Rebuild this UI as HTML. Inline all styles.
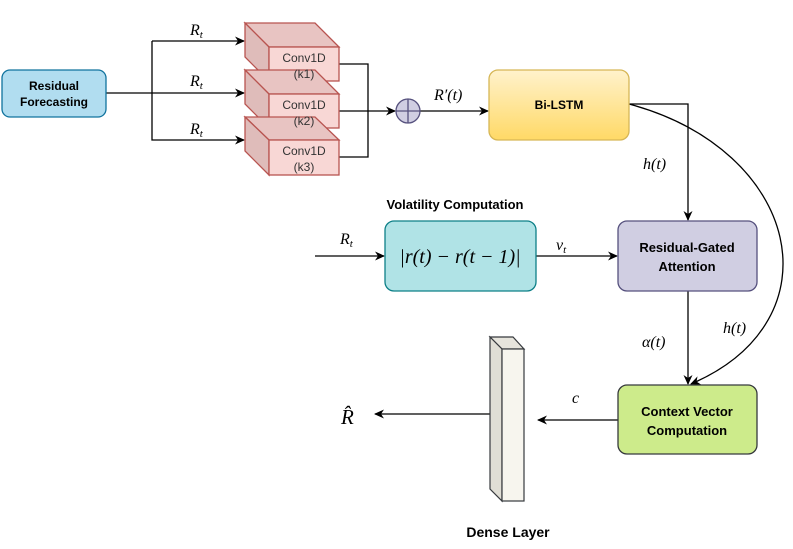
<!DOCTYPE html>
<html><head><meta charset="utf-8"><style>
html,body{margin:0;padding:0;background:#fff;}
svg{display:block;}
.sans{font-family:"Liberation Sans",sans-serif;}
.m{font-family:"Liberation Serif",serif;font-style:italic;}
</style></head><body>
<svg width="793" height="549" viewBox="0 0 793 549" xmlns="http://www.w3.org/2000/svg">
<defs>
<marker id="a" markerWidth="10" markerHeight="10" refX="9" refY="5" orient="auto" markerUnits="userSpaceOnUse">
<path d="M0,0.5 L10,5 L0,9.5 L3,5 Z" fill="#000"/></marker>
<linearGradient id="y" x1="0" y1="0" x2="0" y2="1"><stop offset="0" stop-color="#fff2cc"/><stop offset="1" stop-color="#ffd966"/></linearGradient>
</defs>
<g stroke="#000" stroke-width="1.3" fill="none">
<path d="M106,93 L244,93" marker-end="url(#a)"/>
<path d="M152,41 L244,41" marker-end="url(#a)"/>
<path d="M152,41 L152,140 L244,140" marker-end="url(#a)"/>
<path d="M339,64 L368,64 L368,157 L339,157"/>
<path d="M339,111 L395,111" marker-end="url(#a)"/>
<path d="M420,111 L488,111" marker-end="url(#a)"/>
<path d="M629,104 L688,104 L688,220" marker-end="url(#a)"/>
<path d="M629,104 C800,150 840,320 691,384" marker-end="url(#a)"/>
<path d="M315,256 L384,256" marker-end="url(#a)"/>
<path d="M536,256 L617,256" marker-end="url(#a)"/>
<path d="M688,291 L688,384" marker-end="url(#a)"/>
<path d="M618,420 L538,420" marker-end="url(#a)"/>
<path d="M490,414 L375,414" marker-end="url(#a)"/>
</g>
<rect x="2" y="70" width="104" height="47" rx="8" fill="#b1ddf0" stroke="#10739e" stroke-width="1.3"/>
<text x="54" y="90" text-anchor="middle" class="sans" font-weight="bold" font-size="12">Residual</text>
<text x="54" y="106" text-anchor="middle" class="sans" font-weight="bold" font-size="12">Forecasting</text>
<g stroke="#b85450" stroke-width="1.3">
<g>
<polygon points="245,23 315,23 339,47 269,47" fill="#e8c4c2"/>
<polygon points="245,23 269,47 269,81 245,57" fill="#dfbcba"/>
<rect x="269" y="47" width="70" height="34" fill="#f8d7d5"/>
</g>
<g>
<polygon points="245,70 315,70 339,94 269,94" fill="#e8c4c2"/>
<polygon points="245,70 269,94 269,128 245,104" fill="#dfbcba"/>
<rect x="269" y="94" width="70" height="34" fill="#f8d7d5"/>
</g>
<g>
<polygon points="245,117 315,117 339,140 269,140" fill="#e8c4c2"/>
<polygon points="245,117 269,140 269,175 245,151" fill="#dfbcba"/>
<rect x="269" y="140" width="70" height="35" fill="#f8d7d5"/>
</g>
</g>
<g class="sans" font-size="12" fill="#333" text-anchor="middle">
<text x="304" y="62">Conv1D</text><text x="304" y="78">(k1)</text>
<text x="304" y="109">Conv1D</text><text x="304" y="125">(k2)</text>
<text x="304" y="155">Conv1D</text><text x="304" y="171">(k3)</text>
</g>
<g class="m" font-size="16">
<text x="190" y="35">R<tspan font-size="11" dy="3">t</tspan></text>
<text x="190" y="86">R<tspan font-size="11" dy="3">t</tspan></text>
<text x="190" y="134">R<tspan font-size="11" dy="3">t</tspan></text>
<text x="434" y="100">R′(t)</text>
<text x="643" y="169">h(t)</text>
<text x="340" y="244">R<tspan font-size="11" dy="3">t</tspan></text>
<text x="556" y="250">v<tspan font-size="11" dy="3">t</tspan></text>
<text x="642" y="347">α(t)</text>
<text x="723" y="333">h(t)</text>
<text x="572" y="403">c</text>
<text x="341" y="424" font-size="21">R̂</text>
</g>
<circle cx="408" cy="111" r="12" fill="#d0cee2" stroke="#56517e" stroke-width="1.3"/>
<path d="M396,111 L420,111 M408,99 L408,123" stroke="#56517e" stroke-width="1.3"/>
<rect x="489" y="70" width="140" height="70" rx="9" fill="url(#y)" stroke="#d6b656" stroke-width="1.3"/>
<text x="559" y="109" text-anchor="middle" class="sans" font-weight="bold" font-size="12">Bi-LSTM</text>
<text x="455" y="209" text-anchor="middle" class="sans" font-weight="bold" font-size="13">Volatility Computation</text>
<rect x="385" y="221" width="151" height="70" rx="9" fill="#b0e3e6" stroke="#0e8088" stroke-width="1.3"/>
<text x="460" y="263" text-anchor="middle" class="m" font-size="20">|r(t) − r(t − 1)|</text>
<rect x="618" y="221" width="139" height="70" rx="9" fill="#d0cee2" stroke="#56517e" stroke-width="1.3"/>
<text x="687" y="252" text-anchor="middle" class="sans" font-weight="bold" font-size="13">Residual-Gated</text>
<text x="687" y="271" text-anchor="middle" class="sans" font-weight="bold" font-size="13">Attention</text>
<rect x="618" y="385" width="139" height="69" rx="9" fill="#cdeb8b" stroke="#36393d" stroke-width="1.3"/>
<text x="687" y="416" text-anchor="middle" class="sans" font-weight="bold" font-size="13">Context Vector</text>
<text x="687" y="435" text-anchor="middle" class="sans" font-weight="bold" font-size="13">Computation</text>
<g stroke="#36393d" stroke-width="1.2">
<polygon points="490,337 513,337 524,349 502,349" fill="#e6e4dc"/>
<polygon points="490,337 502,349 502,501 490,489" fill="#e0ded5"/>
<rect x="502" y="349" width="22" height="152" fill="#f7f5ee"/>
</g>
<text x="508" y="537" text-anchor="middle" class="sans" font-weight="bold" font-size="14">Dense Layer</text>
</svg>
</body></html>
